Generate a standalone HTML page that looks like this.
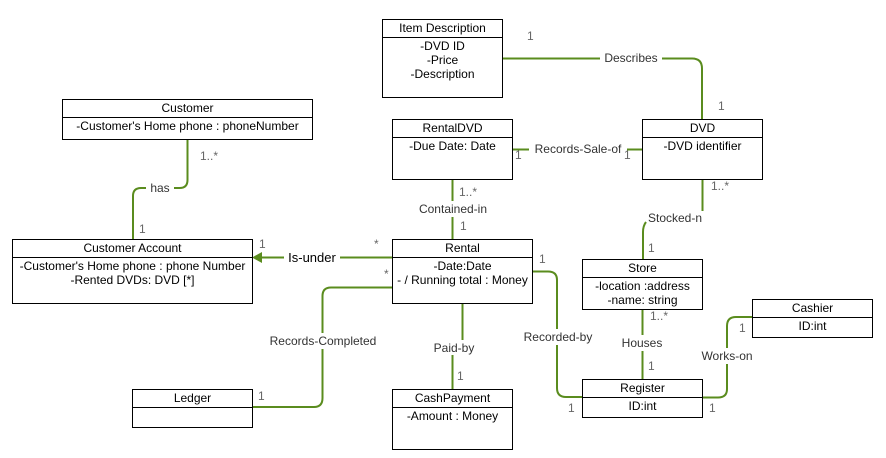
<!DOCTYPE html>
<html><head><meta charset="utf-8"><style>
html,body{margin:0;padding:0;background:#fff}
svg{display:block}
text{font-family:"Liberation Sans",Arial,sans-serif;font-size:12px}
.t{fill:#000;text-anchor:middle}
.l{fill:#333;text-anchor:middle;font-size:12px}
.m{fill:#666;font-size:12px}
.b{fill:#fff;stroke:#000;stroke-width:1}
.c{fill:none;stroke:#5a8c1e;stroke-width:2}
</style></head><body>
<svg width="886" height="458" viewBox="0 0 886 458" xmlns="http://www.w3.org/2000/svg">
<!-- connectors -->
<path class="c" d="M502.5 58.5 H692 Q702 58.5 702 68.5 V119"/>
<path class="c" d="M187.5 139 V180 Q187.5 188 179.5 188 H141 Q133 188 133 196 V239"/>
<path class="c" d="M513 149.5 H642"/>
<path class="c" d="M452.5 179 V239"/>
<path class="c" d="M702.5 179 V211"/>
<path class="c" d="M646 222 Q643 226 643 232 V259"/>
<path class="c" d="M392 257.5 H258"/>
<path d="M252 257.5 L262 252 L262 263 Z" fill="#5a8c1e"/>
<path class="c" d="M392 287.5 H331 Q322.5 287.5 322.5 296 V398 Q322.5 407 314 407 H252"/>
<path class="c" d="M462.5 303 V340"/>
<path class="c" d="M452.5 355 V389"/>
<path class="c" d="M532 271.5 H548 Q557 271.5 557 280 V388 Q557 397 566 397 H582"/>
<path class="c" d="M642.5 309 V379"/>
<path class="c" d="M702 397.5 H718 Q727 397.5 727 389 V326 Q727 317 736 317 H752"/>
<!-- label backgrounds -->
<g fill="#fff">
<rect x="600" y="50" width="62" height="16"/>
<rect x="146" y="180" width="28" height="16"/>
<rect x="529" y="141" width="98" height="16"/>
<rect x="414" y="201" width="78" height="16"/>
<rect x="284" y="249" width="56" height="16"/>
<rect x="266" y="333" width="114" height="16"/>
<rect x="518" y="329" width="80" height="16"/>
<rect x="620" y="335" width="44" height="16"/>
<rect x="700" y="348" width="56" height="16"/>
</g>
<!-- boxes -->
<g>
<rect class="b" x="382.5" y="19.5" width="120" height="78"/><line x1="382.5" y1="37.5" x2="502.5" y2="37.5" stroke="#000"/>
<text class="t" x="442.5" y="32">Item Description</text>
<text class="t" x="442.5" y="50">-DVD ID</text><text class="t" x="442.5" y="64">-Price</text><text class="t" x="442.5" y="78">-Description</text>

<rect class="b" x="62.5" y="99.5" width="250" height="40"/><line x1="62.5" y1="117.5" x2="312.5" y2="117.5" stroke="#000"/>
<text class="t" x="187.5" y="112">Customer</text>
<text class="t" x="187.5" y="130">-Customer's Home phone : phoneNumber</text>

<rect class="b" x="392.5" y="119.5" width="120" height="60"/><line x1="392.5" y1="137.5" x2="512.5" y2="137.5" stroke="#000"/>
<text class="t" x="452.5" y="132">RentalDVD</text><text class="t" x="452.5" y="150">-Due Date: Date</text>

<rect class="b" x="642.5" y="119.5" width="120" height="60"/><line x1="642.5" y1="137.5" x2="762.5" y2="137.5" stroke="#000"/>
<text class="t" x="702.5" y="132">DVD</text><text class="t" x="702.5" y="150">-DVD identifier</text>

<rect class="b" x="12.5" y="239.5" width="240" height="64"/><line x1="12.5" y1="257.5" x2="252.5" y2="257.5" stroke="#000"/>
<text class="t" x="132.5" y="252">Customer Account</text>
<text class="t" x="132.5" y="270">-Customer's Home phone : phone Number</text>
<text class="t" x="132.5" y="284">-Rented DVDs: DVD [*]</text>

<rect class="b" x="392.5" y="239.5" width="140" height="64"/><line x1="392.5" y1="257.5" x2="532.5" y2="257.5" stroke="#000"/>
<text class="t" x="462.5" y="252">Rental</text><text class="t" x="462.5" y="270">-Date:Date</text>
<text class="t" x="462.5" y="284">- / Running total : Money</text>

<rect class="b" x="582.5" y="259.5" width="120" height="50"/><line x1="582.5" y1="277.5" x2="702.5" y2="277.5" stroke="#000"/>
<text class="t" x="642.5" y="272">Store</text><text class="t" x="642.5" y="290">-location :address</text>
<text class="t" x="642.5" y="304">-name: string</text>

<rect class="b" x="752.5" y="299.5" width="120" height="38"/><line x1="752.5" y1="317.5" x2="872.5" y2="317.5" stroke="#000"/>
<text class="t" x="812.5" y="312">Cashier</text><text class="t" x="812.5" y="330">ID:int</text>

<rect class="b" x="582.5" y="379.5" width="120" height="38"/><line x1="582.5" y1="397.5" x2="702.5" y2="397.5" stroke="#000"/>
<text class="t" x="642.5" y="392">Register</text><text class="t" x="642.5" y="410">ID:int</text>

<rect class="b" x="132.5" y="389.5" width="120" height="38"/><line x1="132.5" y1="407.5" x2="252.5" y2="407.5" stroke="#000"/>
<text class="t" x="192.5" y="402">Ledger</text>

<rect class="b" x="392.5" y="389.5" width="120" height="60"/><line x1="392.5" y1="407.5" x2="512.5" y2="407.5" stroke="#000"/>
<text class="t" x="452.5" y="402">CashPayment</text><text class="t" x="452.5" y="420">-Amount : Money</text>
</g>
<!-- labels -->
<text class="l" x="631" y="62">Describes</text>
<text class="l" x="160" y="192">has</text>
<text class="l" x="578" y="153">Records-Sale-of</text>
<text class="l" x="453" y="213">Contained-in</text>
<text class="l" x="675" y="222">Stocked-n</text>
<text class="t" x="312" y="262" style="font-size:13px">Is-under</text>
<text class="l" x="323" y="345">Records-Completed</text>
<text class="l" x="454" y="352">Paid-by</text>
<text class="l" x="558" y="341">Recorded-by</text>
<text class="l" x="642" y="347">Houses</text>
<text class="l" x="727" y="360">Works-on</text>
<!-- multiplicities -->
<text class="m" x="527" y="40">1</text>
<text class="m" x="718" y="110">1</text>
<text class="m" x="200" y="160">1..*</text>
<text class="m" x="139" y="233">1</text>
<text class="m" x="515" y="159">1</text>
<text class="m" x="624" y="159">1</text>
<text class="m" x="459" y="196">1..*</text>
<text class="m" x="460" y="230">1</text>
<text class="m" x="711" y="190">1..*</text>
<text class="m" x="648" y="252">1</text>
<text class="m" x="259" y="248">1</text>
<text class="m" x="374" y="248">*</text>
<text class="m" x="384" y="278">*</text>
<text class="m" x="258" y="400">1</text>
<text class="m" x="457" y="380">1</text>
<text class="m" x="539" y="263">1</text>
<text class="m" x="568" y="412">1</text>
<text class="m" x="650" y="320">1..*</text>
<text class="m" x="648" y="370">1</text>
<text class="m" x="739" y="332">1</text>
<text class="m" x="709" y="412">1</text>
</svg>
</body></html>
